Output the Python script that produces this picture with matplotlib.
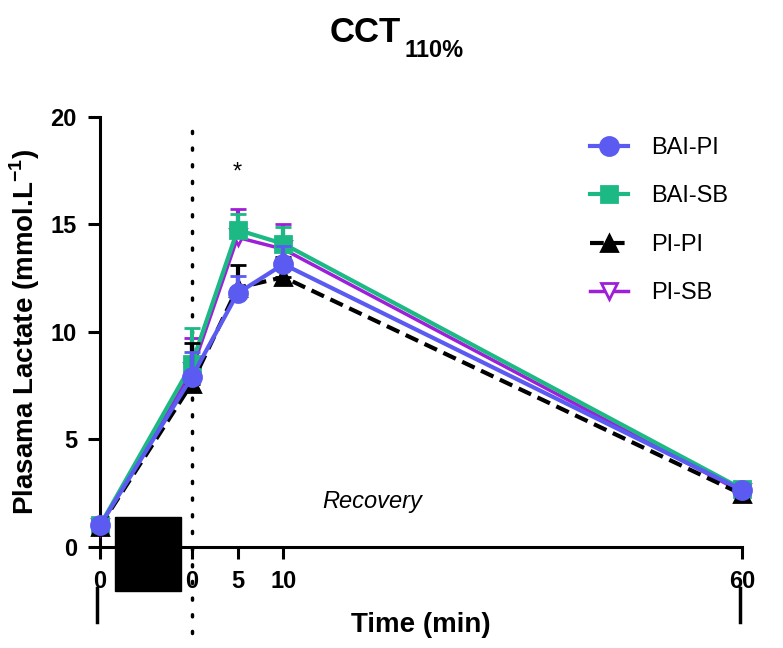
import numpy as np
import matplotlib
matplotlib.use("Agg")
import matplotlib.pyplot as plt
from matplotlib import font_manager
from matplotlib.lines import Line2D
from matplotlib.patches import Rectangle
from matplotlib.legend_handler import HandlerLine2D

# time points (first one is pre-exercise, drawn 10 min left of post 0)
x_pos = [-10, 0, 5, 10, 60]
x_labels = ["0", "0", "5", "10", "60"]

bai_pl = [1.0, 7.9, 11.8, 13.15, 2.65]
bai_pl_sd = [0.1, 1.15, 0.8, 0.85, 0.15]
bai_sb = [1.0, 8.5, 14.75, 14.1, 2.7]
bai_sb_sd = [0.1, 1.7, 0.75, 0.8, 0.15]
pl_pl = [0.95, 7.6, 12.05, 12.55, 2.45]
pl_pl_sd = [0.1, 1.9, 1.05, 0.95, 0.15]
pl_sb = [0.95, 8.2, 14.4, 13.85, 2.55]
pl_sb_sd = [0.1, 1.5, 1.3, 1.15, 0.15]

names = {f.name for f in font_manager.fontManager.ttflist}
base_font = "Liberation Sans"
narrow = "Liberation Sans Narrow" in names
title_font = "Liberation Sans Narrow" if narrow else base_font

plt.rcParams["font.family"] = [base_font, "DejaVu Sans"]
plt.rcParams["mathtext.fontset"] = "custom"
plt.rcParams["mathtext.rm"] = base_font + ":bold"
plt.rcParams["mathtext.bf"] = base_font + ":bold"


class LeftMarkerHandler(HandlerLine2D):
    # marker sits at the left end of the legend line, like Prism
    def get_xdata(self, legend, xdescent, ydescent, width, height, fontsize):
        return [-xdescent, -xdescent + width], [-xdescent]


fig = plt.figure(figsize=(7.83, 6.48), dpi=100)
ax = fig.add_axes([0.1277, 0.1559, 0.8200, 0.6636])

blue = "#5B5BF2"
green = "#1DB984"
purple = "#9E1FD8"

def draw(y, sd, color, marker, ls, z, mfc=None, ms=13, lw=3.0):
    zeros = np.zeros(len(y))
    c = ax.errorbar(x_pos, y, yerr=[zeros, sd], color=color, marker=marker,
                    ls=ls, lw=lw, ms=ms, mfc=mfc if mfc else color, mec=color,
                    mew=2, ecolor=color, elinewidth=3, capsize=6, capthick=3,
                    zorder=z, clip_on=False)
    return c[0]

h_pl_sb = draw(pl_sb, pl_sb_sd, purple, "v", "-", 3, mfc="white", ms=12, lw=2.5)
h_bai_sb = draw(bai_sb, bai_sb_sd, green, "s", "-", 4, ms=12)
h_pl_pl = draw(pl_pl, pl_pl_sd, "black", "^", (0, (3.3, 1.7)), 5, ms=12)
h_bai_pl = draw(bai_pl, bai_pl_sd, blue, "o", "-", 6)

ax.set_xlim(-10, 60)
ax.set_ylim(0, 20)
ax.set_xticks(x_pos)
ax.set_xticklabels(x_labels)
ax.set_yticks([0, 5, 10, 15, 20])

for s in ["top", "right"]:
    ax.spines[s].set_visible(False)
for s in ["left", "bottom"]:
    ax.spines[s].set_linewidth(2.2)
ax.tick_params(axis="both", length=8.6, width=2.2, labelsize=17, pad=8)
for lab in ax.get_xticklabels() + ax.get_yticklabels():
    lab.set_fontweight("bold")

# exercise block and post-exercise marker
ax.add_patch(Rectangle((-8.4, -2.05), 7.2, 3.45, color="black", clip_on=False, zorder=7))
ax.axvline(0, ymin=-0.2, ymax=1, color="black", lw=2.5, ls=(0, (0.6, 4.2)),
           dash_capstyle="round", clip_on=False, zorder=2)
trans = ax.get_xaxis_transform()
ax.plot([-10.3, -10.3], [-0.095, -0.174], color="black", lw=2.5, transform=trans, clip_on=False)
ax.plot([59.8, 59.8], [-0.095, -0.174], color="black", lw=2.5, transform=trans, clip_on=False)

ax.text(19.7, 2.1, "Recovery", style="italic", fontsize=17, ha="center", va="center")
ax.text(5, 17.4, "*", fontsize=17, ha="center", va="center")

ax.set_xlabel("Time (min)", fontsize=20, fontweight="bold", labelpad=14)
ax.set_ylabel(r"Plasama Lactate (mmol.L$^{\mathrm{-1}}$)", fontsize=20,
              fontweight="bold", labelpad=6)

if narrow:
    big, small = 30, 19
else:
    big, small = 25, 17
fig.text(0.512, 1 - 42 / 648, "CCT", family=title_font, fontweight="bold",
         fontsize=big, ha="right", va="baseline")
fig.text(0.517, 1 - 57 / 648, "110%", family=title_font, fontweight="bold",
         fontsize=small, ha="left", va="baseline")

ax.legend([h_bai_pl, h_bai_sb, h_pl_pl, h_pl_sb], ["BAI-PI", "BAI-SB", "PI-PI", "PI-SB"],
          handler_map={Line2D: LeftMarkerHandler()}, loc="upper left",
          bbox_to_anchor=(590 / 783, 1 - 137 / 648), bbox_transform=fig.transFigure,
          frameon=False, fontsize=17, labelspacing=1.12, handlelength=1.6,
          handletextpad=1.0, borderpad=0, borderaxespad=0)

fig.savefig("out.png", dpi=100)
